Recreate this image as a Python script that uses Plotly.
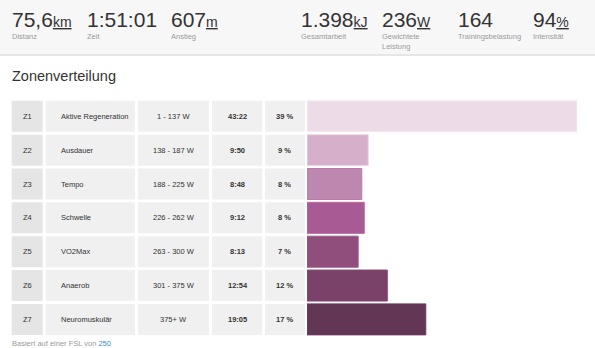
import plotly.graph_objects as go

# --- Ride summary -----------------------------------------------------------
summary_values = ["75,6", "1:51:01", "607", "1.398", "236", "164", "94"]
summary_units = ["km", "", "m", "kJ", "W", "", "%"]
summary_labels = ["Distanz", "Zeit", "Anstieg", "Gesamtarbeit",
                  "Gewichtete<br>Leistung", "Trainingsbelastung", "Intensität"]

# --- Power zone distribution ------------------------------------------------
zones = ["Z1", "Z2", "Z3", "Z4", "Z5", "Z6", "Z7"]
zone_names = ["Aktive Regeneration", "Ausdauer", "Tempo", "Schwelle",
              "VO2Max", "Anaerob", "Neuromuskulär"]
power_ranges = ["1 - 137 W", "138 - 187 W", "188 - 225 W", "226 - 262 W",
                "263 - 300 W", "301 - 375 W", "375+ W"]
zone_times = ["43:22", "9:50", "8:48", "9:12", "8:13", "12:54", "19:05"]
zone_shares = [39, 9, 8, 8, 7, 12, 17]
ftp_watts = 250

bar_colors = ["#eddce7", "#d6b0cb", "#be87b0", "#a85a95",
              "#904e7c", "#7a4268", "#623654"]
bar_edges = ["#f5ebf1", "#ecd7e5", "#b77ca8", "#b9669f",
             "#9c5887", "#864a72", "#6e3d5e"]

# time in zone, in seconds, parsed from the mm:ss labels
zone_seconds = [int(t.split(":")[0]) * 60 + int(t.split(":")[1]) for t in zone_times]

W, H = 595, 348
FONT = "Liberation Sans, Arial, Helvetica, sans-serif"


def px(x):
    return x / W


def py(y):
    return 1 - y / H


fig = go.Figure()

fig.add_trace(go.Bar(
    x=zone_seconds,
    y=zones,
    orientation="h",
    marker=dict(color=bar_colors, line=dict(color=bar_edges, width=1)),
    hoverinfo="skip",
    showlegend=False,
))

shapes = []
annotations = []

# header band
shapes.append(dict(type="rect", xref="paper", yref="paper", x0=0, x1=1,
                   y0=py(54), y1=1, fillcolor="#f7f7f7", line_width=0, layer="below"))
shapes.append(dict(type="rect", xref="paper", yref="paper", x0=0, x1=1,
                   y0=py(56), y1=py(54), fillcolor="#e6e6e6", line_width=0, layer="below"))

head_x = [12, 87, 171, 301, 382, 458, 533]
for xpos, val, unit, lab in zip(head_x, summary_values, summary_units, summary_labels):
    txt = val
    if unit:
        txt += "<span style='font-size:14px'><u>%s</u></span>" % unit
    annotations.append(dict(
        xref="paper", yref="paper", x=px(xpos), y=py(19.5),
        xanchor="left", yanchor="middle", showarrow=False,
        text=txt, font=dict(family=FONT, size=21, color="#333333"),
        borderpad=0, borderwidth=0,
    ))
    annotations.append(dict(
        xref="paper", yref="paper", x=px(xpos), y=py(32),
        xanchor="left", yanchor="top", showarrow=False, align="left",
        text=lab, font=dict(family=FONT, size=7.5, color="#9a9a9a"),
        borderpad=0, borderwidth=0,
    ))

# section title
annotations.append(dict(
    xref="paper", yref="paper", x=px(12), y=py(75.5),
    xanchor="left", yanchor="middle", showarrow=False,
    text="Zonenverteilung", font=dict(family=FONT, size=14.5, color="#333333"),
    borderpad=0, borderwidth=0,
))

# table cells: (left, right, fill)
columns = [(11.7, 42.7, "#e5e5e5"), (45.7, 135, "#f0f0f0"), (138, 209, "#f0f0f0"),
           (212, 262.3, "#f0f0f0"), (265, 305, "#f0f0f0")]
half = 0.458
for i, z in enumerate(zones):
    for x0, x1, fill in columns:
        shapes.append(dict(type="rect", xref="paper", yref="y",
                           x0=px(x0), x1=px(x1), y0=i - half, y1=i + half,
                           fillcolor=fill, line_width=0, layer="below"))

    cell_font = dict(family=FONT, size=7.5, color="#333333")
    annotations.append(dict(xref="paper", yref="y", x=px(27.2), y=z, xanchor="center",
                            yanchor="middle", showarrow=False, text=z, font=cell_font))
    annotations.append(dict(xref="paper", yref="y", x=px(61), y=z, xanchor="left",
                            yanchor="middle", showarrow=False, text=zone_names[i],
                            font=cell_font, borderpad=0, borderwidth=0))
    annotations.append(dict(xref="paper", yref="y", x=px(173.5), y=z, xanchor="center",
                            yanchor="middle", showarrow=False, text=power_ranges[i],
                            font=cell_font))
    annotations.append(dict(xref="paper", yref="y", x=px(237.5), y=z, xanchor="center",
                            yanchor="middle", showarrow=False,
                            text="<b>%s</b>" % zone_times[i], font=cell_font))
    annotations.append(dict(xref="paper", yref="y", x=px(284.5), y=z, xanchor="center",
                            yanchor="middle", showarrow=False,
                            text="<b>%d %%</b>" % zone_shares[i], font=cell_font))

# footnote
annotations.append(dict(
    xref="paper", yref="paper", x=px(12), y=py(338.5),
    xanchor="left", yanchor="top", showarrow=False,
    text="Basiert auf einer FSL von <span style='color:#3a8cc9'>%d</span>" % ftp_watts,
    font=dict(family=FONT, size=7.5, color="#9a9a9a"),
    borderpad=0, borderwidth=0,
))

fig.update_layout(
    width=W, height=H,
    margin=dict(l=0, r=0, t=0, b=0),
    paper_bgcolor="white", plot_bgcolor="rgba(0,0,0,0)",
    bargap=0.084,
    xaxis=dict(domain=[px(307), px(577)], range=[0, max(zone_seconds)],
               visible=False, fixedrange=True),
    yaxis=dict(domain=[py(336.3), py(99.4)], type="category",
               categoryorder="array", categoryarray=zones,
               range=[len(zones) - 0.5, -0.5], visible=False, fixedrange=True),
    shapes=shapes,
    annotations=annotations,
    font=dict(family=FONT),
)

fig.write_html("out.html", config={"displayModeBar": False, "staticPlot": True})
